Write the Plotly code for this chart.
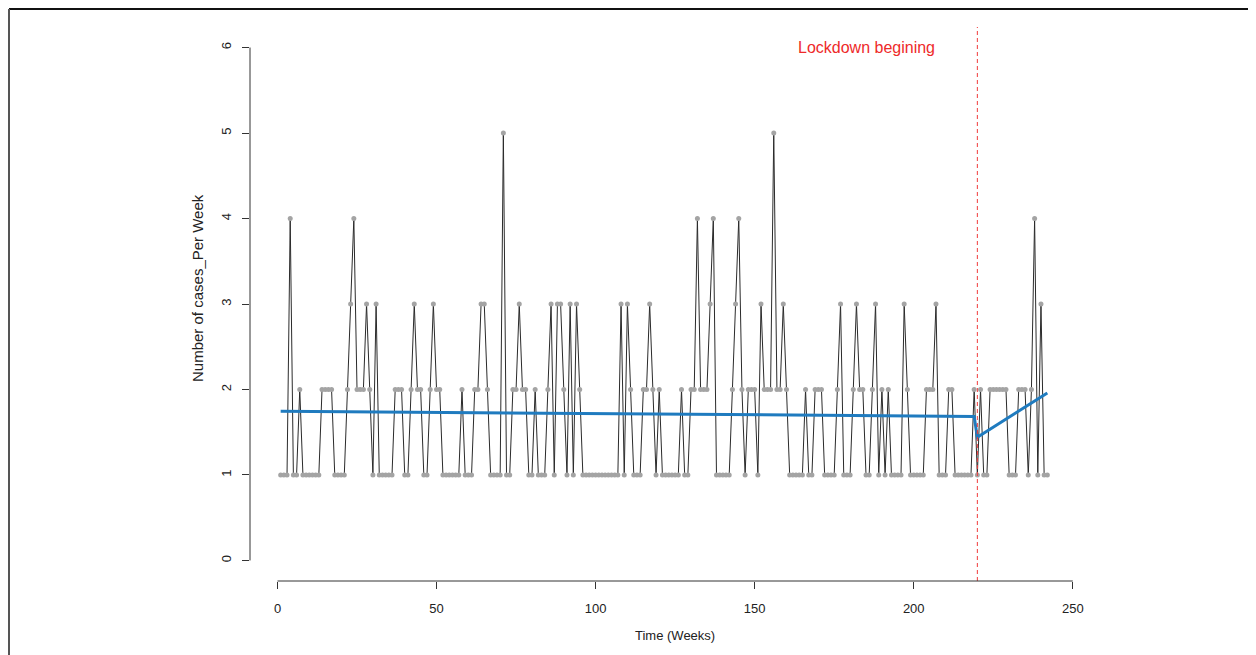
import plotly.graph_objects as go

# Weekly counts (weeks 1..242)
weeks = list(range(1, 243))
cases = [
    1,1,1,4,1,1,2,1,1,1,
    1,1,1,2,2,2,2,1,1,1,
    1,2,3,4,2,2,2,3,2,1,
    3,1,1,1,1,1,2,2,2,1,
    1,2,3,2,2,1,1,2,3,2,
    2,1,1,1,1,1,1,2,1,1,
    1,2,2,3,3,2,1,1,1,1,
    5,1,1,2,2,3,2,2,1,1,
    2,1,1,1,2,3,1,3,3,2,
    1,3,1,3,2,1,1,1,1,1,
    1,1,1,1,1,1,1,3,1,3,
    2,1,1,1,2,2,3,2,1,2,
    1,1,1,1,1,1,2,1,1,2,
    2,4,2,2,2,3,4,1,1,1,
    1,1,2,3,4,2,1,2,2,2,
    1,3,2,2,2,5,2,2,3,2,
    1,1,1,1,1,2,1,1,2,2,
    2,1,1,1,1,2,3,1,1,1,
    2,3,2,2,1,1,2,3,1,2,
    1,2,1,1,1,1,3,2,1,1,
    1,1,1,2,2,2,3,1,1,1,
    2,2,1,1,1,1,1,1,2,1,
    2,1,1,2,2,2,2,2,2,1,
    1,1,2,2,2,1,2,4,1,3,
    1,1,
]

# Segmented trend (fitted values at break points)
trend_weeks = [1, 219, 220, 242]
trend_values = [1.745, 1.685, 1.44, 1.96]

lockdown_week = 220
annot_text = "Lockdown begining"
annot_x = 185
annot_y = 6

x_title = "Time (Weeks)"
y_title = "Number of cases_Per Week"

x_ticks = [0, 50, 100, 150, 200, 250]
y_ticks = [0, 1, 2, 3, 4, 5, 6]

FONT = "Liberation Sans, Arial, sans-serif"

fig = go.Figure()
fig.add_trace(go.Scatter(
    x=weeks, y=cases, mode="lines+markers",
    line=dict(color="#2b2b2b", width=1),
    marker=dict(color="#a4a4a4", size=5),
    showlegend=False, hoverinfo="x+y"))
fig.add_trace(go.Scatter(
    x=trend_weeks, y=trend_values, mode="lines",
    line=dict(color="#1f7bbf", width=3),
    showlegend=False))

# Lockdown line
fig.add_shape(type="line", xref="x", yref="paper", x0=lockdown_week, x1=lockdown_week,
              y0=0, y1=1, line=dict(color="#f03a3a", width=1, dash="4px,3px"))
fig.add_annotation(x=annot_x, y=annot_y, text=annot_text, showarrow=False,
                   font=dict(color="#ee2a2a", size=16, family=FONT))

# Axis titles (R centers them on the tick span)
fig.add_annotation(x=(x_ticks[0] + x_ticks[-1]) / 2, xref="x", y=-54 / 554, yref="paper",
                   text=x_title, showarrow=False, yanchor="middle",
                   font=dict(size=13, family=FONT, color="#222"))
fig.add_annotation(x=-53 / 828, xref="paper", y=1 - 261 / 554, yref="paper",
                   text=y_title, showarrow=False, textangle=-90, xanchor="center",
                   font=dict(size=15, family=FONT, color="#222"))

# R-style axis lines spanning only tick range
fig.add_shape(type="line", xref="x", yref="paper", x0=x_ticks[0], x1=x_ticks[-1],
              y0=0, y1=0, line=dict(color="#333", width=1))
fig.add_shape(type="line", xref="paper", yref="y", x0=0, x1=0,
              y0=y_ticks[0], y1=y_ticks[-1], line=dict(color="#333", width=1))

# Outer frame (top and left edges)
fig.add_shape(type="line", xref="paper", yref="paper", x0=-241 / 828, x1=998 / 828,
              y0=1 + 18 / 554, y1=1 + 18 / 554, line=dict(color="#111", width=2))
fig.add_shape(type="line", xref="paper", yref="paper", x0=-241 / 828, x1=-241 / 828,
              y0=1 + 18 / 554, y1=-90 / 554, line=dict(color="#555", width=2))

fig.update_layout(
    width=1256, height=655,
    margin=dict(l=242, r=186, t=19, b=82),
    paper_bgcolor="white", plot_bgcolor="white",
    font=dict(family=FONT, size=12, color="#222"),
    xaxis=dict(range=[-8.64, 251.64], tickvals=x_ticks, ticks="outside", ticklen=7,
               tickcolor="#333", showgrid=False, zeroline=False, showline=False,
               tickfont=dict(size=13), ticklabelstandoff=8),
    yaxis=dict(range=[-0.24, 6.24], tickvals=y_ticks, ticks="outside", ticklen=7,
               tickcolor="#333", tickangle=-90, showgrid=False, zeroline=False,
               showline=False, tickfont=dict(size=13), ticklabelstandoff=6),
)

fig.write_html("out.html")
